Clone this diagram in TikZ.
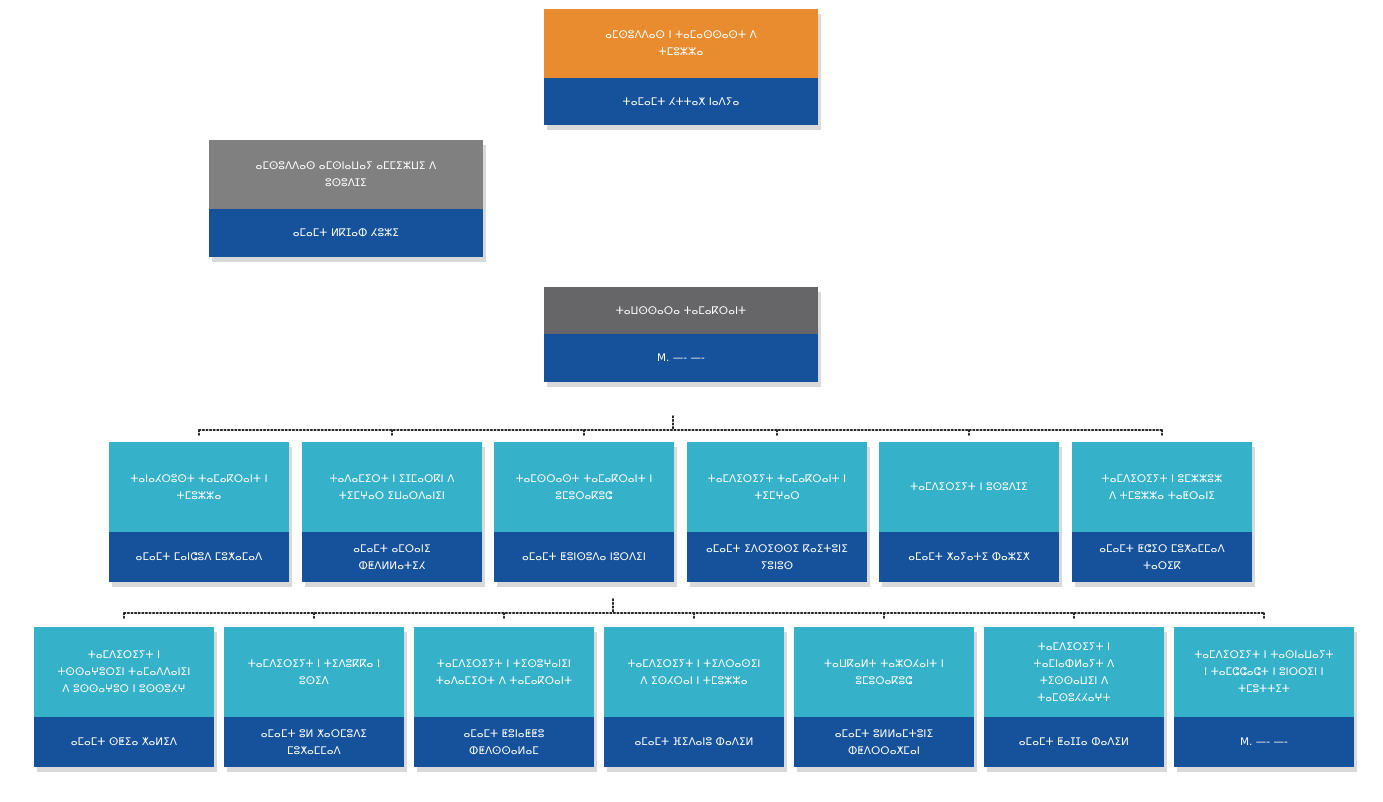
\documentclass[tikz,border=0pt]{standalone}
\usepackage{fontspec}
\setmainfont{DejaVu Sans}
\usetikzlibrary{shadows,calc}
\definecolor{cOr}{HTML}{E98C30}
\definecolor{cBl}{HTML}{16529B}
\definecolor{cGr}{HTML}{808080}
\definecolor{cDg}{HTML}{666567}
\definecolor{cCy}{HTML}{35B1C9}
\tikzset{
 card/.style={draw=none,fill=white,drop shadow={shadow xshift=3pt,shadow yshift=-5pt,opacity=0.25,fill=black!60}},
 part/.style={anchor=north west,inner sep=0pt,outer sep=0pt,text=white,align=center,font=\fontsize{10.5}{17}\selectfont},
 bus/.style={line width=1.6pt,dotted,line cap=round,black!85}
}
\newcommand{\orgbox}[9]{%
 \fill[card] (#2,#3) rectangle ++(#4,#5+#6);
 \node[part,fill=#7,minimum width=#4pt,minimum height=#5pt,text width=#4pt-18pt] (#1t) at (#2,#3) {#8};
 \node[part,fill=cBl,minimum width=#4pt,minimum height=#6pt,text width=#4pt-18pt] (#1b) at (#2,#3+#5) {#9};
}
\begin{document}
\begin{tikzpicture}[x=1pt,y=-1pt]
\useasboundingbox (0,0) rectangle (1383,802);
\orgbox{top}{544}{9}{274}{69}{47}{cOr}{ⴰⵎⵙⵓⴷⴷⴰⵙ ⵏ ⵜⴰⵎⴰⵙⵙⴰⵙⵜ ⴷ\\ⵜⵎⵓⵣⵣⴰ}{ⵜⴰⵎⴰⵎⵜ ⵃⵜⵜⴰⵅ ⵏⴰⴷⵢⴰ}
\orgbox{sec}{209}{140}{274}{69}{48}{cGr}{ⴰⵎⵙⵓⴷⴷⴰⵙ ⴰⵎⵙⵏⴰⵡⴰⵢ ⴰⵎⵎⵉⵣⵡⵉ ⴷ\\ⵓⵙⵓⴷⵊⵉ}{ⴰⵎⴰⵎⵜ ⵍⴽⵊⴰⵀ ⵃⵓⵣⵉ}
\orgbox{gen}{544}{287}{274}{47}{48}{cDg}{ⵜⴰⵡⵙⵙⴰⵔⴰ ⵜⴰⵎⴰⴽⵔⴰⵏⵜ}{M. ---- ----}
% row 1
\orgbox{a1}{109}{442}{180}{90}{50}{cCy}{ⵜⴰⵏⴰⵃⵔⵓⵙⵜ ⵜⴰⵎⴰⴽⵔⴰⵏⵜ ⵏ\\ⵜⵎⵓⵣⵣⴰ}{ⴰⵎⴰⵎⵜ ⵎⴰⵏⵛⵓⴷ ⵎⵓⵅⴰⵎⴰⴷ}
\orgbox{a2}{302}{442}{180}{90}{50}{cCy}{ⵜⴰⴷⴰⵎⵉⵔⵜ ⵏ ⵉⵊⵎⴰⵔⴽⵏ ⴷ\\ⵜⵉⵎⵖⴰⵔ ⵉⵡⴰⵔⴷⴰⵏⵉⵏ}{ⴰⵎⴰⵎⵜ ⴰⵎⵔⴰⵏⵉ\\ⵀⵟⴷⵍⵍⴰⵜⵉⵃ}
\orgbox{a3}{494}{442}{180}{90}{50}{cCy}{ⵜⴰⵎⵙⵔⴰⵙⵜ ⵜⴰⵎⴰⴽⵔⴰⵏⵜ ⵏ\\ⵓⵎⵓⵔⴰⴽⵓⵛ}{ⴰⵎⴰⵎⵜ ⵟⵓⵏⵙⵓⴷⴰ ⵏⵓⵔⴷⵉⵏ}
\orgbox{a4}{687}{442}{180}{90}{50}{cCy}{ⵜⴰⵎⴷⵉⵔⵉⵢⵜ ⵜⴰⵎⴰⴽⵔⴰⵏⵜ ⵏ\\ⵜⵉⵎⵖⴰⵔ}{ⴰⵎⴰⵎⵜ ⵉⴷⵔⵉⵙⵙⵉ ⴽⴰⵉⵜⵓⵏⵉ\\ⵢⵓⵏⵓⵙ}
\orgbox{a5}{879}{442}{180}{90}{50}{cCy}{ⵜⴰⵎⴷⵉⵔⵉⵢⵜ ⵏ ⵓⵙⵓⴷⵊⵉ}{ⴰⵎⴰⵎⵜ ⵅⴰⵢⴰⵜⵉ ⵀⴰⵣⵉⵅ}
\orgbox{a6}{1072}{442}{180}{90}{50}{cCy}{ⵜⴰⵎⴷⵉⵔⵉⵢⵜ ⵏ ⵓⵎⵣⵣⵓⵣ\\ⴷ ⵜⵎⵓⵣⵣⴰ ⵜⴰⵟⵔⴰⵏⵉ}{ⴰⵎⴰⵎⵜ ⵟⵛⵉⵔ ⵎⵓⵅⴰⵎⵎⴰⴷ\\ⵜⴰⵔⵉⴽ}
% row 2
\orgbox{b1}{34}{627}{180}{90}{50}{cCy}{ⵜⴰⵎⴷⵉⵔⵉⵢⵜ ⵏ\\ⵜⵙⵙⴰⵖⵓⵔⵉⵏ ⵜⴰⵎⴰⴷⴷⴰⵏⵉⵏ\\ⴷ ⵓⵙⵙⴰⵖⵓⵔ ⵏ ⵓⵙⵙⵓⵃⵖ}{ⴰⵎⴰⵎⵜ ⵙⵟⵉⴰ ⵅⴰⵍⵉⴷ}
\orgbox{b2}{224}{627}{180}{90}{50}{cCy}{ⵜⴰⵎⴷⵉⵔⵉⵢⵜ ⵏ ⵜⵉⴷⵓⴽⴽⴰ ⵏ\\ⵓⵙⵉⴷ}{ⴰⵎⴰⵎⵜ ⵓⵍ ⵅⴰⵔⵎⵓⴷⵉ\\ⵎⵓⵅⴰⵎⵎⴰⴷ}
\orgbox{b3}{414}{627}{180}{90}{50}{cCy}{ⵜⴰⵎⴷⵉⵔⵉⵢⵜ ⵏ ⵜⵉⵙⵓⵖⴰⵏⵉⵏ\\ⵜⴰⴷⴰⵎⵉⵔⵜ ⴷ ⵜⴰⵎⴰⴽⵔⴰⵏⵜ}{ⴰⵎⴰⵎⵜ ⵟⵓⵏⴰⵟⵟⵓ\\ⵀⵟⴷⵙⵙⴰⵍⴰⵎ}
\orgbox{b4}{604}{627}{180}{90}{50}{cCy}{ⵜⴰⵎⴷⵉⵔⵉⵢⵜ ⵏ ⵜⵉⴷⵔⴰⵙⵉⵏ\\ⴷ ⵉⵙⵃⵔⴰⵏ ⵏ ⵜⵎⵓⵣⵣⴰ}{ⴰⵎⴰⵎⵜ ⴼⵉⴷⴰⵏⵓ ⵀⴰⴷⵉⵍ}
\orgbox{b5}{794}{627}{180}{90}{50}{cCy}{ⵜⴰⵡⴽⴰⵍⵜ ⵜⴰⵣⵔⵃⴰⵏⵜ ⵏ\\ⵓⵎⵓⵔⴰⴽⵓⵛ}{ⴰⵎⴰⵎⵜ ⵓⵍⵍⴰⵎⵜⵓⵏⵉ\\ⵀⵟⴷⵔⵔⴰⵅⵎⴰⵏ}
\orgbox{b6}{984}{627}{180}{90}{50}{cCy}{ⵜⴰⵎⴷⵉⵔⵉⵢⵜ ⵏ\\ⵜⴰⵎⵏⴰⵀⵍⴰⵢⵜ ⴷ\\ⵜⵉⵙⵙⴰⵡⵉⵏ ⴷ\\ⵜⴰⵎⵙⵓⵃⵃⴰⵖⵜ}{ⴰⵎⴰⵎⵜ ⵟⴰⵊⵊⴰ ⵀⴰⴷⵉⵍ}
\orgbox{b7}{1174}{627}{180}{90}{50}{cCy}{ⵜⴰⵎⴷⵉⵔⵉⵢⵜ ⵏ ⵜⴰⵙⵏⴰⵡⴰⵢⵜ\\ⵏ ⵜⴰⵎⵛⵛⴰⵛⵜ ⵏ ⵓⵏⵔⵔⵉⵏ ⵏ\\ⵜⵎⵓⵜⵜⵉⵜ}{M. ---- ----}
% connectors
\coordinate (h1) at (673,416);
\coordinate (bus1) at (673,430);
\draw[bus] (h1) -- (bus1);
\draw[bus] (a1t.north |- bus1) -- (a6t.north |- bus1);
\foreach \n in {a1,a2,a3,a4,a5,a6}{\draw[bus] (\n t.north |- bus1) -- ++(0,5);}
\coordinate (h2) at (613,599);
\coordinate (bus2) at (613,613);
\draw[bus] (h2) -- (bus2);
\draw[bus] (b1t.north |- bus2) -- (b7t.north |- bus2);
\foreach \n in {b1,b2,b3,b4,b5,b6,b7}{\draw[bus] (\n t.north |- bus2) -- ++(0,5);}
\end{tikzpicture}
\end{document}
